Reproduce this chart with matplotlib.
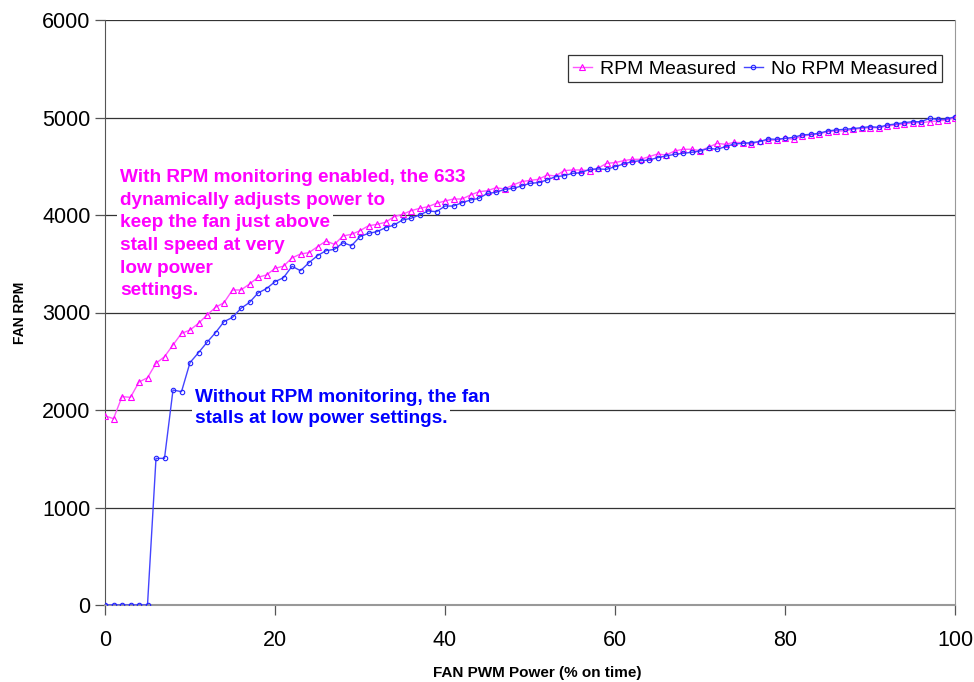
import numpy as np
import matplotlib
matplotlib.use('Agg')
import matplotlib.pyplot as plt

plt.rcParams['font.family'] = ['Liberation Sans', 'DejaVu Sans']

# fan power, % on time
pwm = list(range(0, 101))

rpm_measured = [
    1940, 1911, 2137, 2130, 2287, 2331, 2479, 2547, 2667, 2786,
    2820, 2889, 2974, 3053, 3101, 3231, 3231, 3292, 3361, 3385,
    3453, 3475, 3560, 3600, 3614, 3675, 3733, 3699, 3785, 3802,
    3839, 3890, 3904, 3925, 3983, 4007, 4044, 4068, 4085, 4120,
    4144, 4164, 4164, 4205, 4239, 4249, 4280, 4267, 4308, 4342,
    4355, 4366, 4410, 4400, 4455, 4462, 4462, 4455, 4479, 4530,
    4537, 4557, 4571, 4571, 4598, 4626, 4615, 4656, 4674, 4674,
    4660, 4694, 4735, 4725, 4745, 4742, 4725, 4759, 4765, 4769,
    4786, 4776, 4810, 4821, 4831, 4855, 4862, 4862, 4879, 4889,
    4896, 4896, 4913, 4923, 4933, 4947, 4947, 4957, 4964, 4974,
    5000,
]

no_rpm_measured = [
    0, 0, 0, 0, 0, 0, 1504, 1504, 2205, 2188,
    2486, 2588, 2694, 2793, 2906, 2950, 3043, 3103, 3200, 3245,
    3316, 3357, 3474, 3429, 3511, 3583, 3634, 3648, 3716, 3685,
    3778, 3812, 3829, 3870, 3897, 3949, 3966, 4000, 4041, 4034,
    4092, 4092, 4126, 4154, 4171, 4222, 4232, 4263, 4273, 4297,
    4325, 4332, 4359, 4393, 4403, 4427, 4434, 4468, 4472, 4468,
    4496, 4523, 4547, 4557, 4564, 4588, 4605, 4622, 4632, 4643,
    4656, 4684, 4674, 4701, 4728, 4735, 4742, 4752, 4780, 4776,
    4786, 4796, 4821, 4827, 4838, 4862, 4872, 4879, 4886, 4896,
    4906, 4899, 4923, 4933, 4947, 4957, 4957, 4991, 4981, 4984,
    5008,
]

note_rpm = ['With RPM monitoring enabled, the 633',
            'dynamically adjusts power to',
            'keep the fan just above',
            'stall speed at very',
            'low power',
            'settings.']
note_no_rpm = ['Without RPM monitoring, the fan',
               'stalls at low power settings.']

fig = plt.figure(figsize=(9.74, 6.82), dpi=100)
ax = fig.add_axes([105 / 974, 77 / 682, 850 / 974, 585 / 682])

ax.plot(pwm, rpm_measured, color='#FF55FF', lw=1.0, marker='^', ms=4.5,
        mfc='none', mec='#FF00FF', mew=0.8, label='RPM Measured', zorder=4)
ax.plot(pwm, no_rpm_measured, color='#4444FF', lw=1.0, marker='o', ms=3.2,
        mfc='none', mec='#2222FF', mew=0.8, label='No RPM Measured', zorder=4)

ax.set_xlim(0, 100)
ax.set_ylim(0, 6000)
ax.set_xticks(np.arange(0, 101, 20))
ax.set_yticks(np.arange(0, 6001, 1000))
ax.yaxis.grid(True, color='#333333', lw=0.9)
ax.set_axisbelow(True)
ax.tick_params(direction='out', length=7, width=0.9, labelsize=15.5,
               colors='#555555', labelcolor='black')
ax.tick_params(axis='x', pad=11)

for s in ['left', 'bottom']:
    ax.spines[s].set_color('#555555')
ax.spines['bottom'].set_linewidth(1.5)
ax.spines['bottom'].set_color('#999999')
ax.spines['right'].set_color('#999999')
ax.spines['top'].set_visible(False)

ax.set_xlabel('FAN PWM Power (% on time)', fontsize=11, fontweight='bold')
ax.xaxis.set_label_coords(0.508, -61 / 585)
ax.set_ylabel('FAN RPM', fontsize=10, fontweight='bold')
ax.yaxis.set_label_coords(-78 / 850, 0.5)

# callouts, one line per text so the white background hugs each line
for i, line in enumerate(note_rpm):
    ax.text(1.76, 4338 - i * 232, line, color='#FF00FF', fontsize=13.7, fontweight='bold',
            va='baseline', ha='left', zorder=3,
            bbox=dict(facecolor='white', edgecolor='none', pad=2))
for i, line in enumerate(note_no_rpm):
    ax.text(10.6, 2082 - i * 215, line, color='#0000FF', fontsize=13.7, fontweight='bold',
            va='baseline', ha='left', zorder=3,
            bbox=dict(facecolor='white', edgecolor='none', pad=2))

leg = ax.legend(loc='upper right', bbox_to_anchor=(0.985, 0.94), borderaxespad=0,
                ncol=2, fontsize=14, frameon=True, fancybox=False,
                handlelength=1.0, handletextpad=0.4, columnspacing=0.4,
                borderpad=0.25, framealpha=1)
leg.get_frame().set_edgecolor('#333333')
leg.get_frame().set_linewidth(0.9)

fig.savefig('out.png', dpi=100)
